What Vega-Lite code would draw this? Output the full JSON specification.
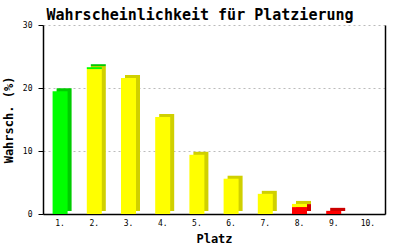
{
  "$schema": "https://vega.github.io/schema/vega-lite/v6.json",
  "autosize": "none",
  "width": 342,
  "height": 189,
  "padding": {"left": 43, "top": 25, "right": 15, "bottom": 36},
  "background": "white",
  "title": {
    "text": "Wahrscheinlichkeit für Platzierung",
    "font": "DejaVu Sans Mono",
    "fontSize": 15,
    "fontWeight": "bold",
    "color": "black",
    "anchor": "middle",
    "frame": "group",
    "dx": -14,
    "offset": -2
  },
  "data": {
    "values": [
      {"platz": "1.", "stufe": 3, "kat": "grün", "wert": 19.5},
      {"platz": "2.", "stufe": 2, "kat": "gelb", "wert": 23.0},
      {"platz": "2.", "stufe": 3, "kat": "grün", "wert": 0.3},
      {"platz": "3.", "stufe": 2, "kat": "gelb", "wert": 21.6},
      {"platz": "4.", "stufe": 2, "kat": "gelb", "wert": 15.4},
      {"platz": "5.", "stufe": 2, "kat": "gelb", "wert": 9.4},
      {"platz": "6.", "stufe": 2, "kat": "gelb", "wert": 5.6},
      {"platz": "7.", "stufe": 2, "kat": "gelb", "wert": 3.2},
      {"platz": "8.", "stufe": 1, "kat": "rot", "wert": 1.1},
      {"platz": "8.", "stufe": 2, "kat": "gelb", "wert": 0.5},
      {"platz": "9.", "stufe": 1, "kat": "rot", "wert": 0.5},
      {"platz": "10.", "stufe": 1, "kat": "rot", "wert": 0}
    ]
  },
  "encoding": {
    "x": {
      "field": "platz",
      "type": "ordinal",
      "sort": ["1.", "2.", "3.", "4.", "5.", "6.", "7.", "8.", "9.", "10."],
      "scale": {"paddingInner": 0.56, "paddingOuter": 0.28},
      "axis": {
        "title": "Platz",
        "titleFont": "DejaVu Sans Mono",
        "titleFontSize": 12,
        "titleFontWeight": "bold",
        "titleColor": "black",
        "titlePadding": 6,
        "labelFont": "DejaVu Sans Mono",
        "labelFontSize": 8,
        "labelColor": "black",
        "labelAngle": 0,
        "labelPadding": 5,
        "ticks": false,
        "domainColor": "black",
        "domainWidth": 1.5
      }
    },
    "order": {"field": "stufe", "type": "quantitative"}
  },
  "layer": [
    {
      "mark": {"type": "bar", "width": 15, "xOffset": 4, "yOffset": -3},
      "encoding": {
        "y": {
          "field": "wert",
          "type": "quantitative",
          "aggregate": "sum",
          "stack": "zero",
          "scale": {"domain": [0, 30]},
          "axis": {
            "orient": "left",
            "values": [0, 10, 20, 30],
            "title": "Wahrsch. (%)",
            "titleFont": "DejaVu Sans Mono",
            "titleFontSize": 12,
            "titleFontWeight": "bold",
            "titleColor": "black",
            "titlePadding": 7,
            "labelFont": "DejaVu Sans Mono",
            "labelFontSize": 8,
            "labelColor": "black",
            "labelPadding": 6,
            "tickColor": "black",
            "tickSize": 5,
            "domainColor": "black",
            "domainWidth": 1.5,
            "grid": true,
            "gridColor": "#bbbbbb",
            "gridDash": [2, 3]
          }
        },
        "color": {
          "field": "kat",
          "type": "nominal",
          "scale": {"domain": ["rot", "gelb", "grün"], "range": ["#cc0000", "#d0d000", "#00cc00"]},
          "legend": null
        }
      }
    },
    {
      "mark": {"type": "bar", "width": 15},
      "encoding": {
        "y": {
          "field": "wert",
          "type": "quantitative",
          "aggregate": "sum",
          "stack": "zero",
          "scale": {"domain": [0, 30]},
          "axis": {
            "orient": "right",
            "title": null,
            "labels": false,
            "ticks": false,
            "grid": false,
            "domainColor": "black",
            "domainWidth": 1.5
          }
        },
        "color": {
          "field": "kat",
          "type": "nominal",
          "scale": {"domain": ["rot", "gelb", "grün"], "range": ["#ff0000", "#ffff00", "#00ff00"]},
          "legend": null
        }
      }
    }
  ],
  "resolve": {"scale": {"color": "independent"}, "axis": {"y": "independent"}},
  "config": {"view": {"stroke": null}}
}
